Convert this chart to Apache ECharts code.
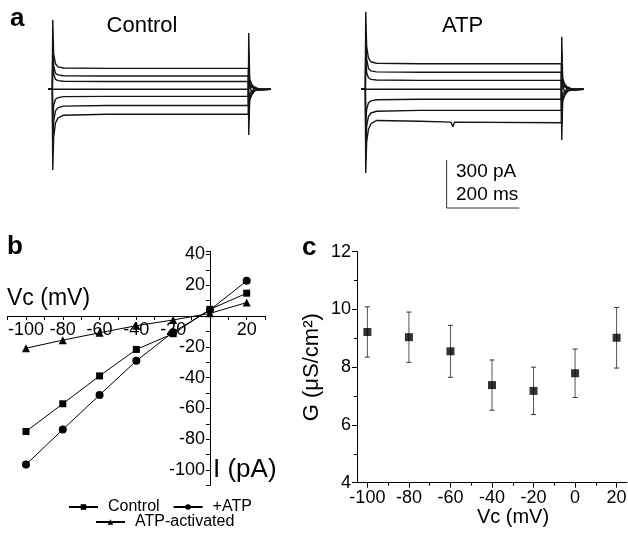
<!DOCTYPE html>
<html><head><meta charset="utf-8">
<script src="https://cdn.jsdelivr.net/npm/echarts@6/dist/echarts.min.js"></script>
<style>html,body{margin:0;padding:0;background:#fff}#c{width:628px;height:536px}</style>
</head><body><div id="c"></div>
<script>
const FONT = "'Liberation Sans', Arial, sans-serif";

// ---- Panel a: whole-cell current traces (time in ms, current in pA) ----
const traceTimes = [-12, -0.5, 0.5, 3, 8, 15, 30, 150, 235, 240, 245, 538.5, 539.5, 542, 548, 556, 570, 600];
const controlTrace1 = [0, 0, 433, 222, 160, 140, 133, 131, 131, 131, 131, 131, -285, -70, -35, -10, -2, 0];
const controlTrace2 = [0, 0, 300, 150, 100, 90, 85, 83, 83, 83, 83, 83, -200, -50, -25, -7, -2, 0];
const controlTrace3 = [0, 0, 180, 95, 62, 54, 50, 49, 49, 49, 49, 49, -120, -30, -12, -4, -1, 0];
const controlTrace4 = [0, 0, 0, 0, 0, 0, 0, 0, 0, 0, 0, 0, 0, 25, -22, 16, -6, 0];
const controlTrace5 = [0, 0, -200, -100, -62, -52, -46, -44, -44, -44, -44, -44, 120, 30, 12, 4, 1, 0];
const controlTrace6 = [0, 0, -360, -200, -135, -115, -105, -101, -101, -101, -101, -101, 230, 50, 22, 7, 2, 0];
const controlTrace7 = [0, 0, -504, -300, -210, -180, -162, -156, -156, -156, -156, -156, 352, 65, 30, 9, 2, 0];

const atpTrace1 = [0, 0, 485, 270, 195, 172, 163, 160, 160, 160, 160, 160, -317, -75, -38, -11, -3, 0];
const atpTrace2 = [0, 0, 340, 190, 130, 115, 109, 107, 107, 107, 107, 107, -220, -55, -26, -8, -2, 0];
const atpTrace3 = [0, 0, 200, 105, 72, 62, 58, 56, 56, 56, 56, 56, -130, -32, -14, -4, -1, 0];
const atpTrace4 = [0, 0, 0, 0, 0, 0, 0, 0, 0, 0, 0, 0, 0, 25, -22, 16, -6, 0];
const atpTrace5 = [0, 0, -220, -125, -85, -72, -65, -62, -62, -62, -62, -62, 130, 32, 14, 4, 1, 0];
const atpTrace6 = [0, 0, -380, -230, -170, -148, -137, -132, -132, -132, -132, -132, 230, 52, 24, 7, 2, 0];
const atpTrace7 = [0, 0, -523, -330, -250, -215, -195, -200, -205, -234, -205, -209, 329, 68, 32, 9, 2, 0];

const scaleBarTimes = [223, 223, 423];      // ms
const scaleBarCurrents = [-442, -742, -742]; // pA

// ---- Panel b: I-V relation ----
const vcB = [-100, -80, -60, -40, -20, 0, 20];
const controlI = [-75.0, -57.0, -38.9, -21.7, -11.5, 4.3, 14.8];
const atpI = [-96.5, -73.7, -51.3, -29.1, -10.5, 3.9, 22.8];
const activatedI = [-20.9, -15.7, -10.9, -6.3, -2.6, 1.7, 8.7];
const bXTicks = [-100, -80, -60, -40, -20, 20];
const bYTicks = [40, 20, -20, -40, -60, -80, -100];

// ---- Panel c: conductance ----
const vcC = [-100, -80, -60, -40, -20, 0, 20];
const gMean = [9.22, 9.04, 8.55, 7.38, 7.18, 7.79, 9.02];
const gErr = [0.87, 0.87, 0.90, 0.87, 0.82, 0.84, 1.05];
const cXMajor = [-100, -80, -60, -40, -20, 0, 20];
const cXMinor = [-90, -70, -50, -30, -10, 10];

const zip = (xs, ys) => xs.map((x, i) => [x, ys[i]]);

const traceStyle = { color: '#141414', width: 1.4 };
function traceSeries(name, data, idx) {
  return {
    type: 'line', name: name, xAxisIndex: idx, yAxisIndex: idx,
    data: zip(traceTimes, data), showSymbol: false, symbol: 'none',
    lineStyle: traceStyle, silent: true, clip: false, z: 2
  };
}

const controlTraces = [controlTrace1, controlTrace2, controlTrace3, controlTrace4, controlTrace5, controlTrace6, controlTrace7];
const atpTraces = [atpTrace1, atpTrace2, atpTrace3, atpTrace4, atpTrace5, atpTrace6, atpTrace7];

const hiddenAxis = { type: 'value', show: false };

const chart = echarts.init(document.getElementById('c'), null, { renderer: 'canvas' });

const series = [];
controlTraces.forEach((t, i) => series.push(traceSeries('ctl' + i, t, 0)));
atpTraces.forEach((t, i) => series.push(traceSeries('atp' + i, t, 1)));
series.push({
  type: 'line', name: 'scalebar', xAxisIndex: 1, yAxisIndex: 1,
  data: zip(scaleBarTimes, scaleBarCurrents), showSymbol: false, symbol: 'none',
  lineStyle: { color: '#333', width: 1 }, silent: true, clip: false
});

const bLine = { color: '#000', width: 1 };
series.push({ type: 'line', name: 'Control', xAxisIndex: 2, yAxisIndex: 2, data: zip(vcB, controlI),
  symbol: 'rect', symbolSize: 7, itemStyle: { color: '#000' }, lineStyle: bLine, z: 3 });
series.push({ type: 'line', name: '+ATP', xAxisIndex: 2, yAxisIndex: 2, data: zip(vcB, atpI),
  symbol: 'circle', symbolSize: 8, itemStyle: { color: '#000' }, lineStyle: bLine, z: 3 });
series.push({ type: 'line', name: 'ATP-activated', xAxisIndex: 2, yAxisIndex: 2, data: zip(vcB, activatedI),
  symbol: 'triangle', symbolSize: 8, itemStyle: { color: '#000' }, lineStyle: bLine, z: 3 });

series.push({
  type: 'custom', name: 'errors', xAxisIndex: 3, yAxisIndex: 3, silent: true,
  data: vcC.map((v, i) => [v, gMean[i], gErr[i]]),
  renderItem: function (params, api) {
    const x = api.value(0), m = api.value(1), e = api.value(2);
    const top = api.coord([x, m + e]);
    const bot = api.coord([x, m - e]);
    const w = 2.5;
    return {
      type: 'group', children: [
        { type: 'line', shape: { x1: top[0], y1: top[1], x2: bot[0], y2: bot[1] }, style: { stroke: '#555', lineWidth: 1 } },
        { type: 'line', shape: { x1: top[0] - w, y1: top[1], x2: top[0] + w, y2: top[1] }, style: { stroke: '#333', lineWidth: 1 } },
        { type: 'line', shape: { x1: bot[0] - w, y1: bot[1], x2: bot[0] + w, y2: bot[1] }, style: { stroke: '#333', lineWidth: 1 } }
      ]
    };
  },
  z: 2
});
series.push({ type: 'scatter', name: 'G', xAxisIndex: 3, yAxisIndex: 3, data: zip(vcC, gMean),
  symbol: 'rect', symbolSize: 8, itemStyle: { color: '#000' }, z: 3 });

const tickFont = { fontFamily: FONT, fontSize: 18, color: '#000' };

// panel b grid geometry (axes cross at the origin)
const bGrid = { left: 7.6, top: 251.3, width: 257.5, height: 234.1 };
const bX = { min: -110, max: 30 }, bY = { min: -110, max: 42 };
const bYAxisOffset = -(0 - bX.min) / (bX.max - bX.min) * bGrid.width;   // shift y axis to x = 0
const bXAxisOffset = -(0 - bY.min) / (bY.max - bY.min) * bGrid.height;  // shift x axis to y = 0

const legendText = { fontFamily: FONT, fontSize: 16, color: '#000', padding: [0, 0, 0, 5] };

const option = {
  animation: false,
  backgroundColor: '#fff',
  textStyle: { fontFamily: FONT },
  grid: [
    { left: 38, top: 9.3, width: 240, height: 208, outerBoundsMode: 'none' },
    { left: 351, top: 9.3, width: 240, height: 208, outerBoundsMode: 'none' },
    Object.assign({ outerBoundsMode: 'none' }, bGrid),
    { left: 357, top: 251.7, width: 270, height: 231, outerBoundsMode: 'none' }
  ],
  xAxis: [
    Object.assign({ gridIndex: 0, min: -40, max: 620 }, hiddenAxis),
    Object.assign({ gridIndex: 1, min: -40, max: 620 }, hiddenAxis),
    {
      type: 'value', gridIndex: 2, min: bX.min, max: bX.max, interval: 10, position: 'bottom', offset: bXAxisOffset,
      axisLine: { show: true, onZero: false, lineStyle: { color: '#000', width: 1 } },
      axisTick: { show: true, length: 4, lineStyle: { color: '#000' } },
      axisLabel: Object.assign({ margin: 5, formatter: v => bXTicks.indexOf(v) >= 0 ? String(v) : '' }, tickFont),
      splitLine: { show: false }
    },
    {
      type: 'value', gridIndex: 3, min: -105, max: 25, position: 'bottom',
      axisLine: { show: true, onZero: false, lineStyle: { color: '#000', width: 1 } },
      axisTick: { show: true, length: 5, customValues: cXMajor, lineStyle: { color: '#000' } },
      axisLabel: Object.assign({ margin: 6, customValues: cXMajor }, tickFont),
      splitLine: { show: false },
      name: 'Vc (mV)', nameLocation: 'middle', nameGap: 25, nameMoveOverlap: false,
      nameTextStyle: { fontFamily: FONT, fontSize: 20, color: '#000', padding: [0, 0, 0, 42], verticalAlign: 'top' }
    },
    {
      type: 'value', gridIndex: 3, min: -105, max: 25, position: 'bottom',
      axisLine: { show: false, onZero: false },
      axisTick: { show: true, length: 3, customValues: cXMinor, lineStyle: { color: '#000' } },
      axisLabel: { show: false },
      splitLine: { show: false }
    }
  ],
  yAxis: [
    Object.assign({ gridIndex: 0, min: -800, max: 500 }, hiddenAxis),
    Object.assign({ gridIndex: 1, min: -800, max: 500 }, hiddenAxis),
    {
      type: 'value', gridIndex: 2, min: bY.min, max: bY.max, interval: 10, position: 'left', offset: bYAxisOffset,
      axisLine: { show: true, onZero: false, lineStyle: { color: '#000', width: 1 } },
      axisTick: { show: true, length: 4, lineStyle: { color: '#000' } },
      axisLabel: Object.assign({ margin: 5, formatter: v => bYTicks.indexOf(v) >= 0 ? String(v) : '' }, tickFont),
      splitLine: { show: false }
    },
    {
      type: 'value', gridIndex: 3, min: 4, max: 12, interval: 2,
      axisLine: { show: true, onZero: false, lineStyle: { color: '#000', width: 1 } },
      axisTick: { show: true, length: 5, lineStyle: { color: '#000' } },
      minorTick: { show: true, splitNumber: 2, length: 3, lineStyle: { color: '#000' } },
      axisLabel: Object.assign({ margin: 6 }, tickFont),
      splitLine: { show: false },
      name: 'G (\u03bcS/cm\u00b2)', nameLocation: 'middle', nameGap: 34,
      nameTextStyle: { fontFamily: FONT, fontSize: 22, color: '#000' }
    }
  ],
  legend: [
    { data: ['Control', '+ATP'], left: 68, top: 499, padding: 0, itemWidth: 29, itemHeight: 7, itemGap: 13,
      textStyle: legendText, selectedMode: false },
    { data: ['ATP-activated'], left: 95, top: 514, padding: 0, itemWidth: 29, itemHeight: 7,
      textStyle: legendText, selectedMode: false }
  ],
  graphic: [
    { type: 'text', x: 10, y: 19, style: { text: 'a', font: 'bold 26px ' + FONT, fill: '#000', align: 'left', verticalAlign: 'middle' } },
    { type: 'text', x: 142, y: 25.5, style: { text: 'Control', font: '22px ' + FONT, fill: '#000', align: 'center', verticalAlign: 'middle' } },
    { type: 'text', x: 462.5, y: 25.5, style: { text: 'ATP', font: '22px ' + FONT, fill: '#000', align: 'center', verticalAlign: 'middle' } },
    { type: 'text', x: 456, y: 172, style: { text: '300 pA', font: '19px ' + FONT, fill: '#000', align: 'left', verticalAlign: 'middle' } },
    { type: 'text', x: 456, y: 195, style: { text: '200 ms', font: '19px ' + FONT, fill: '#000', align: 'left', verticalAlign: 'middle' } },
    { type: 'text', x: 7, y: 247, style: { text: 'b', font: 'bold 26px ' + FONT, fill: '#000', align: 'left', verticalAlign: 'middle' } },
    { type: 'text', x: 302, y: 248, style: { text: 'c', font: 'bold 26px ' + FONT, fill: '#000', align: 'left', verticalAlign: 'middle' } },
    { type: 'text', x: 7, y: 299, style: { text: 'Vc (mV)', font: '23px ' + FONT, fill: '#000', align: 'left', verticalAlign: 'middle' } },
    { type: 'text', x: 213, y: 470, style: { text: 'I (pA)', font: '26px ' + FONT, fill: '#000', align: 'left', verticalAlign: 'middle' } }
  ],
  series: series
};
chart.setOption(option);
</script>
</body></html>
